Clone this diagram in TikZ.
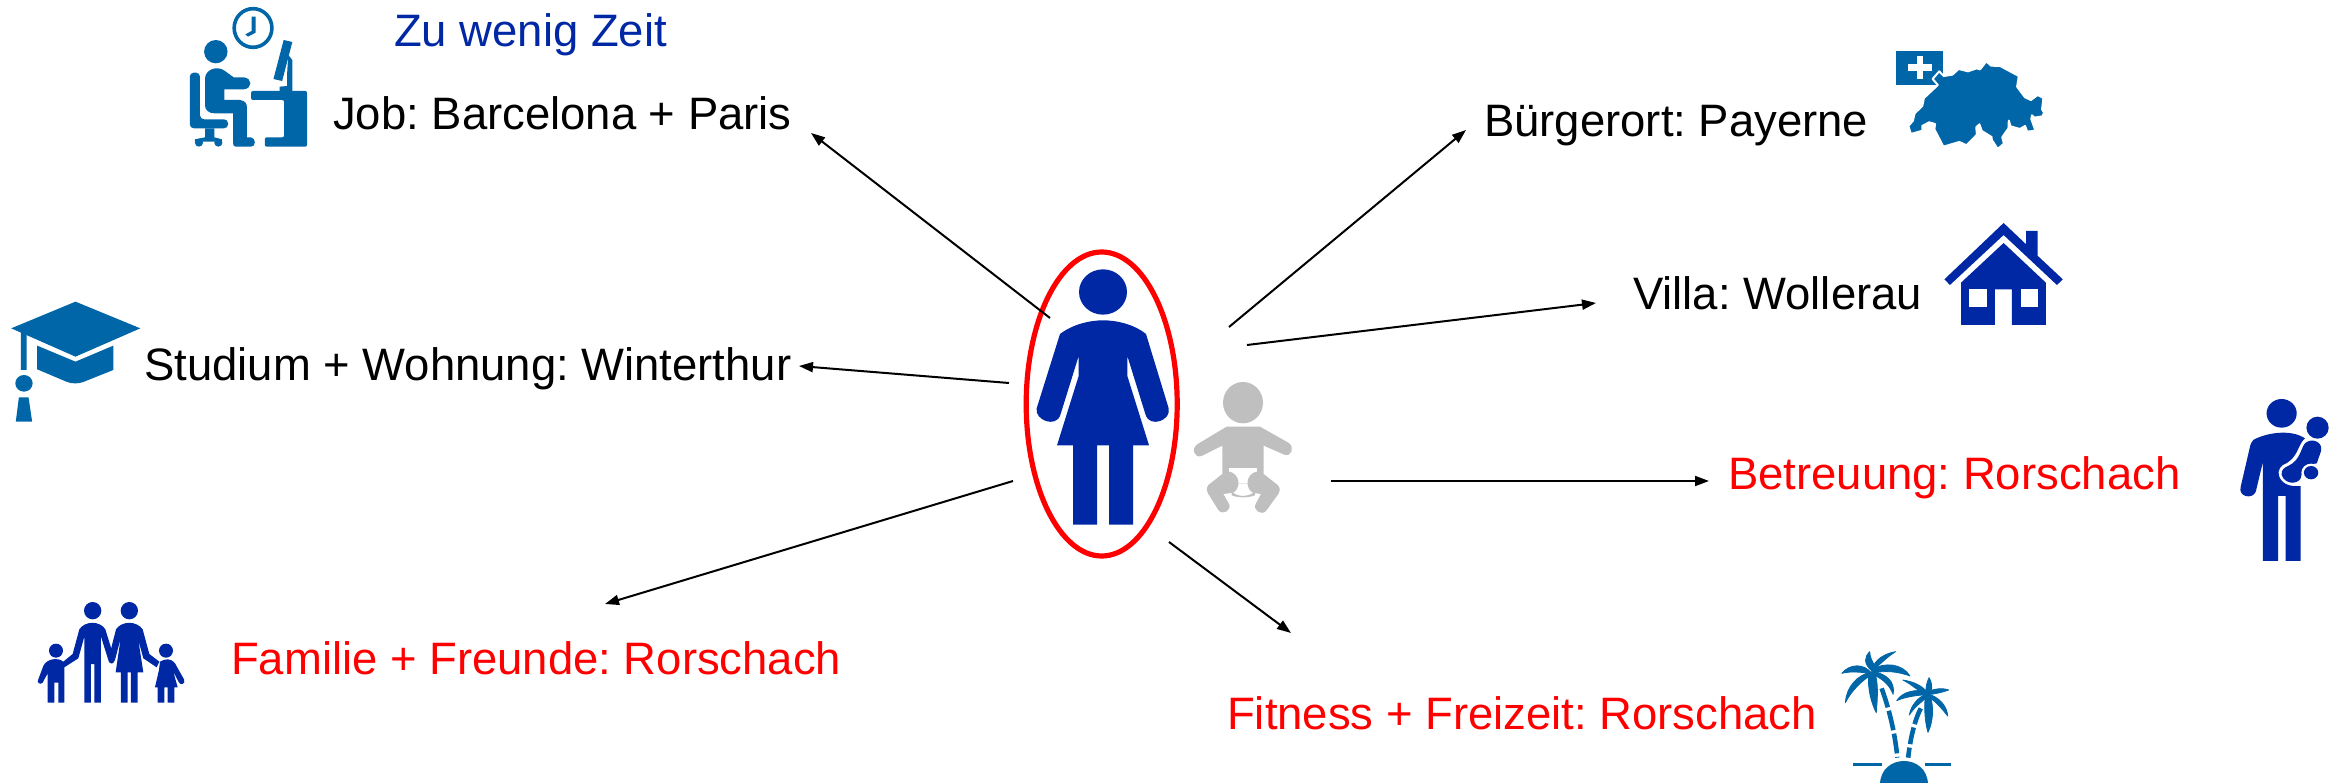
\documentclass[tikz,border=0pt]{standalone}
\usepackage{fontspec}
\setmainfont{Liberation Sans}
\usetikzlibrary{arrows.meta,shapes.geometric}
\definecolor{navy}{HTML}{0028A5}
\definecolor{teal}{HTML}{0066A8}
\definecolor{babygray}{HTML}{BFBFBF}
\tikzset{
  label/.style={anchor=base west,inner sep=0pt,font=\frenchspacing\fontsize{45.45}{54}\selectfont,text=black},
  redlabel/.style={label,text=red},
  bluelabel/.style={label,text=navy},
  conn/.style={line width=2pt,draw=black,-{Triangle[length=14pt,width=10pt]}},
}
\begin{document}
\begin{tikzpicture}[x=1pt,y=-1pt]
\useasboundingbox (0,0) rectangle (2343,783);
% labels
\node[bluelabel] (zeit) at (394,47) {Zu wenig Zeit};
\node[label] (job) at (333,130) {Job: Barcelona + Paris};
\node[label] (studium) at (144,381) {Studium + Wohnung: Winterthur};
\node[redlabel] (familie) at (231,674) {Familie + Freunde: Rorschach};
\node[redlabel] (fitness) at (1227,729) {Fitness + Freizeit: Rorschach};
\node[redlabel] (betreuung) at (1728,489) {Betreuung: Rorschach};
\node[label] (buerger) at (1484,137) {Bürgerort: Payerne};
\node[label] (villa) at (1633,310) {Villa: Wollerau};
% focus ellipse
\node[ellipse,draw=red,line width=5.2pt,minimum width=151pt,minimum height=304pt,inner sep=0pt] (focus) at (1101.7,404) {};
% connector ends
\coordinate (t1) at (1050,318); \coordinate (h1) at (811,133);
\coordinate (t2) at (1009,383); \coordinate (h2) at (799,366);
\coordinate (t3) at (1013,481); \coordinate (h3) at (605,604);
\coordinate (t4) at (1169,542); \coordinate (h4) at (1291,633);
\coordinate (t5) at (1331,481); \coordinate (h5) at (1709,481);
\coordinate (t6) at (1247,345); \coordinate (h6) at (1596,303);
\coordinate (t7) at (1229,327); \coordinate (h7) at (1466,130);
\foreach \i in {1,...,7} {\draw[conn] (t\i) -- (h\i);}
% woman and baby
\begin{scope}[shift={(950,220)},x=0.33333pt,y=-0.33333pt]
\fill[navy] (459,216) circle[x radius=72,y radius=68];
\fill[navy] (330,342) .. controls (370,312) and (420,301) .. (459,301) .. controls (500,301) and (550,312) .. (588,342) -- (656,565) .. controls (665,600) and (600,625) .. (587,585) -- (532,408) -- (532,468) -- (597,676) -- (549,676) -- (549,914) -- (477,914) -- (477,676) -- (441,676) -- (441,914) -- (369,914) -- (369,676) -- (321,676) -- (386,468) -- (386,408) -- (331,585) .. controls (318,625) and (253,600) .. (260,565) -- cycle;
\fill[babygray] (879,548) circle[x radius=60,y radius=62];
\fill[babygray] (830,620) -- (930,620) -- (1015,668) .. controls (1035,680) and (1025,712) .. (1003,704) -- (941,677) -- (941,790) -- (817,790) -- (817,677) -- (755,708) .. controls (733,716) and (722,685) .. (743,672) -- cycle;
\fill[white] (836,745) -- (921,745) -- (921,790) -- (836,790) -- cycle;
\fill[babygray] (845,815) .. controls (865,832) and (893,832) .. (915,815) -- (915,826) .. controls (893,834) and (865,834) .. (845,826) -- cycle;
\fill[babygray] (817,762) -- (775,795) .. controls (768,805) and (770,812) .. (775,822) -- (805,870) .. controls (818,888) and (848,870) .. (836,850) -- (820,822) -- (850,818) .. controls (872,805) and (872,765) .. (840,755) -- cycle;
\fill[babygray] (941,762) -- (983,795) .. controls (992,805) and (990,812) .. (985,822) -- (948,873) .. controls (935,888) and (905,870) .. (918,850) -- (933,822) -- (908,818) .. controls (886,805) and (886,765) .. (918,755) -- cycle;
\end{scope}
% worker and cap
\begin{scope}[x=0.5102pt,y=-0.33333pt]
\draw[teal,line width=3.6pt] (496,84) circle[x radius=37,y radius=58];
\fill[teal] (493,50) -- (501,50) -- (501,98) -- (486,110) -- (481,103) -- (493,93) -- cycle;
\fill[teal] (423,155) circle[x radius=23,y radius=35];
\fill[teal] (402,235) .. controls (402,210) and (425,195) .. (440,212) -- (458,232) -- (478,232) .. controls (495,235) and (495,265) .. (478,268) -- (440,268) -- (440,300) -- (470,300) .. controls (480,302) and (484,310) .. (484,322) -- (484,412) -- (492,412) .. controls (502,415) and (502,440) .. (492,440) -- (462,440) .. controls (458,440) and (457,435) .. (457,430) -- (457,340) -- (420,340) .. controls (410,340) and (402,330) .. (402,318) -- cycle;
\fill[teal,rounded corners=4pt] (372,218) -- (392,218) -- (392,358) -- (447,358) -- (447,385) -- (372,385) -- cycle;
\fill[teal] (402,385) -- (420,385) -- (420,412) -- (435,418) -- (435,425) -- (382,425) -- (382,418) -- (402,412) -- cycle;
\fill[teal] (390,428) circle[x radius=8,y radius=12];
\fill[teal] (428,428) circle[x radius=8,y radius=12];
\fill[teal,rounded corners=2pt] (492,273) -- (602,273) -- (602,440) -- (519,440) -- (519,412) -- (557,412) -- (557,300) -- (492,300) -- cycle;
\fill[teal] (556,120) -- (573,126) -- (553,243) -- (536,237) -- cycle;
\fill[teal] (565,165) -- (573,180) -- (573,273) -- (548,273) -- (548,260) -- (563,258) -- (563,215) -- cycle;
% cap
\fill[teal] (148,905) -- (275,985) -- (148,1070) -- (22,985) -- cycle;
\fill[teal] (73,1037) -- (148,1085) -- (222,1037) -- (222,1110) -- (165,1145) .. controls (155,1152) and (140,1152) .. (130,1145) -- (73,1108) -- cycle;
\fill[teal] (41,990) -- (52,995) -- (52,1110) -- (41,1110) -- cycle;
\fill[teal] (47,1150) circle[x radius=17,y radius=25];
\fill[teal] (37,1192) -- (56,1192) -- (63,1265) -- (31,1265) -- cycle;
\end{scope}
% Switzerland and house
\begin{scope}[shift={(1800,0)},x=0.34626pt,y=-0.33333pt]
\fill[teal] (277,153) rectangle (413,256);
\fill[white] (337,168) rectangle (356,238);
\fill[white] (313,192) rectangle (381,213);
\fill[teal,draw=white,line width=2pt,line join=round] (398,255) -- (383,237) -- (402,214) -- (415,228) -- (440,224) -- (458,207) -- (485,214) -- (510,205) -- (520,208) -- (538,184) -- (552,197) -- (578,198) -- (632,228) -- (627,260) -- (650,292) -- (667,300) -- (686,285) -- (703,294) -- (699,328) -- (705,338) -- (700,349) -- (677,353) -- (670,346) -- (668,357) -- (680,392) -- (656,395) -- (650,378) -- (635,387) -- (608,379) -- (603,362) -- (602,385) -- (584,412) -- (589,431) -- (571,447) -- (554,420) -- (553,411) -- (525,393) -- (518,373) -- (509,382) -- (511,404) -- (481,436) -- (460,426) -- (414,440) -- (388,388) -- (390,372) -- (373,367) -- (353,378) -- (354,392) -- (320,402) -- (313,378) -- (326,362) -- (331,340) -- (353,318) -- (358,294) -- cycle;
\fill[navy] (588,669) -- (653,733) -- (653,693) -- (686,693) -- (686,767) -- (759,838) -- (742,855) -- (588,705) -- (433,855) -- (417,838) -- cycle;
\fill[navy] (588,729) -- (710,848) -- (710,975) -- (612,975) -- (612,868) -- (563,868) -- (563,975) -- (465,975) -- (465,848) -- cycle;
\fill[white] (489,868) rectangle (540,920);
\fill[white] (637,868) rectangle (687,920);
\end{scope}
% man with child and palms
\begin{scope}[shift={(1780,380)},x=0.35907pt,y=-0.33333pt]
\fill[navy] (1397,100) circle[x radius=42,y radius=43];
\fill[navy] (1497,143) circle[x radius=31,y radius=33];
\fill[navy] (1318,180) .. controls (1350,160) and (1420,145) .. (1462,175) .. controls (1440,195) and (1445,235) .. (1400,255) .. controls (1375,275) and (1390,325) .. (1450,318) -- (1450,543) -- (1408,543) -- (1408,348) -- (1387,348) -- (1387,543) -- (1345,543) -- (1345,245) -- (1325,335) .. controls (1315,360) and (1275,350) .. (1283,320) -- (1310,195) .. controls (1312,190) and (1314,185) .. (1318,180) -- cycle;
\fill[navy] (1462,190) .. controls (1480,172) and (1512,185) .. (1507,212) -- (1495,250) .. controls (1475,250) and (1455,265) .. (1450,295) .. controls (1440,315) and (1405,312) .. (1397,285) .. controls (1395,270) and (1405,262) .. (1415,258) .. controls (1450,240) and (1450,205) .. (1462,190) -- cycle;
\fill[white] (1479,278) circle[x radius=27,y radius=27];
\fill[navy] (1479,278) circle[x radius=20,y radius=20];
% palms
\begin{scope}[every path/.append style={line width=0.8pt,line join=round}]
\filldraw[teal] (255,880) .. controls (235,850) and (195,850) .. (172,880) .. controls (200,872) and (230,878) .. (255,880) -- cycle;
\filldraw[teal] (255,875) .. controls (215,885) and (185,920) .. (182,968) .. controls (200,930) and (230,900) .. (258,882) -- cycle;
\filldraw[teal] (247,878) .. controls (243,930) and (255,970) .. (268,998) .. controls (272,950) and (274,910) .. (264,878) -- cycle;
\filldraw[teal] (258,875) .. controls (295,880) and (322,905) .. (315,943) .. controls (305,915) and (285,895) .. (255,882) -- cycle;
\filldraw[teal] (255,870) .. controls (290,845) and (340,850) .. (362,888) .. controls (330,875) and (290,870) .. (258,880) -- cycle;
\filldraw[teal] (255,870) .. controls (265,835) and (295,820) .. (322,815) .. controls (300,830) and (280,850) .. (262,870) -- cycle;
\filldraw[teal] (255,872) .. controls (232,850) and (235,830) .. (250,815) .. controls (250,830) and (255,840) .. (265,860) -- cycle;
\filldraw[teal] (413,940) .. controls (395,915) and (370,905) .. (342,900) .. controls (370,915) and (385,935) .. (410,945) -- cycle;
\filldraw[teal] (413,935) .. controls (425,928) and (450,922) .. (470,930) .. controls (450,938) and (430,942) .. (413,944) -- cycle;
\filldraw[teal] (413,936) .. controls (380,925) and (340,935) .. (325,962) .. controls (350,950) and (385,945) .. (413,944) -- cycle;
\filldraw[teal] (412,940) .. controls (385,950) and (365,975) .. (360,1005) .. controls (375,980) and (395,965) .. (416,946) -- cycle;
\filldraw[teal] (405,945) .. controls (400,990) and (405,1030) .. (412,1057) .. controls (425,1030) and (430,985) .. (418,945) -- cycle;
\filldraw[teal] (412,942) .. controls (440,950) and (465,975) .. (467,1008) .. controls (450,985) and (435,965) .. (410,948) -- cycle;
\filldraw[teal] (407,938) .. controls (405,920) and (410,905) .. (415,893) .. controls (422,905) and (425,920) .. (420,938) -- cycle;
\end{scope}
\draw[teal,line width=4.6pt,dash pattern=on 20pt off 3.5pt] (283,925) .. controls (305,990) and (320,1060) .. (327,1133);
\draw[teal,line width=4.6pt,dash pattern=on 17pt off 3.5pt] (392,985) .. controls (375,1020) and (362,1080) .. (357,1133);
\fill[teal] (203,1150) rectangle (298,1159);
\fill[teal] (392,1150) rectangle (477,1159);
\fill[white] (285,1145) rectangle (405,1175);
\fill[teal] (278,1215) .. controls (278,1120) and (412,1120) .. (412,1215) -- cycle;
\end{scope}
% family
\begin{scope}[shift={(0,580)},x=0.33333pt,y=-0.33333pt]
\fill[navy] (278,92) circle[radius=26];
\fill[navy] (388,92) circle[radius=26];
\fill[navy] (168,212) circle[radius=21];
\fill[navy] (498,212) circle[radius=21];
\fill[navy] (238,148) .. controls (255,122) and (300,122) .. (316,148) -- (343,235) .. controls (345,255) and (328,255) .. (325,240) -- (303,170) -- (303,368) -- (283,368) -- (283,252) -- (273,252) -- (273,368) -- (253,368) -- (253,170) -- (235,235) -- (193,262) -- (193,368) -- (175,368) -- (175,308) -- (163,308) -- (163,368) -- (143,368) -- (143,280) -- (128,308) .. controls (122,316) and (108,308) .. (115,298) -- (130,258) .. controls (140,235) and (175,232) .. (190,245) -- (218,222) -- cycle;
\fill[navy] (348,148) .. controls (365,122) and (410,122) .. (428,148) -- (448,222) -- (478,245) -- (470,262) -- (430,235) -- (415,180) -- (430,277) -- (413,277) -- (413,368) -- (393,368) -- (393,277) -- (383,277) -- (383,368) -- (363,368) -- (363,277) -- (347,277) -- (362,175) -- (345,240) .. controls (340,255) and (322,252) .. (326,235) -- cycle;
\fill[navy] (480,245) .. controls (495,235) and (515,235) .. (525,250) -- (552,298) .. controls (558,312) and (542,318) .. (536,306) -- (520,275) -- (533,322) -- (523,322) -- (523,368) -- (503,368) -- (503,322) -- (493,322) -- (493,368) -- (473,368) -- (473,322) -- (465,322) -- (477,270) -- cycle;
\end{scope}
\end{tikzpicture}
\end{document}
